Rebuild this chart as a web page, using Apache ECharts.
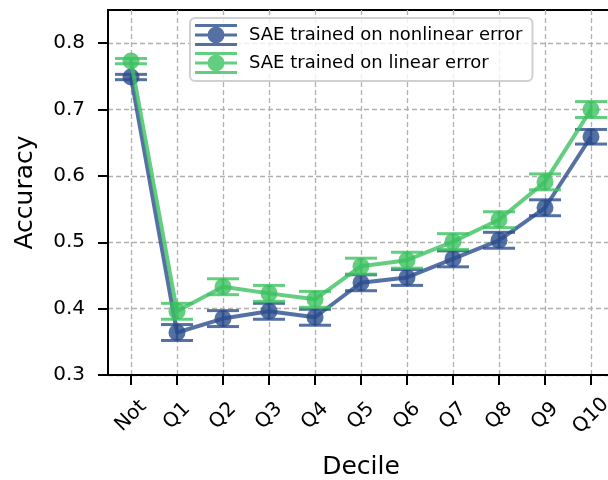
<!DOCTYPE html>
<html>
<head>
<meta charset="utf-8">
<script src="https://cdn.jsdelivr.net/npm/echarts@6/dist/echarts.min.js"></script>
<style>
  html, body { margin: 0; padding: 0; background: #fff; }
  #chart { width: 608px; height: 480px; }
</style>
</head>
<body>
<div id="chart"></div>
<script>
// Decile categories along the x axis
const categories = ['Not', 'Q1', 'Q2', 'Q3', 'Q4', 'Q5', 'Q6', 'Q7', 'Q8', 'Q9', 'Q10'];

// Accuracy (mean) and error half-widths per decile
const nonlinearAcc = [0.749, 0.364, 0.385, 0.396, 0.387, 0.439, 0.447, 0.475, 0.503, 0.552, 0.659];
const nonlinearErr = [0.004, 0.012, 0.012, 0.012, 0.012, 0.012, 0.012, 0.012, 0.012, 0.012, 0.011];
const linearAcc = [0.773, 0.396, 0.433, 0.423, 0.414, 0.464, 0.473, 0.501, 0.534, 0.591, 0.700];
const linearErr = [0.004, 0.012, 0.012, 0.012, 0.012, 0.012, 0.012, 0.012, 0.012, 0.012, 0.012];

// y tick positions
const yTicks = [0.3, 0.4, 0.5, 0.6, 0.7, 0.8];

const seriesNames = ['SAE trained on nonlinear error', 'SAE trained on linear error'];
const blue = '#2a4c8c';
const green = '#3cc060';
const ALPHA = 0.8;
const FONT = 'DejaVu Sans';

// Legend handle: three horizontal bars (cap, line, cap), a vertical error bar and a marker
const handleIcon = 'path://M0,0 L42,0 L42,3 L0,3 Z M0,9.5 L42,9.5 L42,12.5 L0,12.5 Z M0,19 L42,19 L42,22 L0,22 Z ' +
  'M20,2 L22,2 L22,20 L20,20 Z ' +
  'M21,2.5 L24.25,3.15 L27.01,4.99 L28.85,7.75 L29.5,11 L28.85,14.25 L27.01,17.01 L24.25,18.85 L21,19.5 ' +
  'L17.75,18.85 L14.99,17.01 L13.15,14.25 L12.5,11 L13.15,7.75 L14.99,4.99 L17.75,3.15 Z';

// Error bars with caps; this series also carries the legend entry
function errorSeries(name, acc, err, color, z) {
  const data = acc.map((v, i) => [i, v - err[i], v + err[i]]);
  return {
    type: 'custom',
    name: name,
    z: z,
    data: data,
    encode: { x: 0, y: [1, 2] },
    silent: true,
    itemStyle: { color: color, opacity: ALPHA },
    renderItem: function (params, api) {
      const x = api.value(0);
      const lo = api.coord([x, api.value(1)]);
      const hi = api.coord([x, api.value(2)]);
      const half = 16;
      const style = { stroke: color, lineWidth: 3, opacity: ALPHA };
      return {
        type: 'group',
        children: [
          { type: 'line', shape: { x1: lo[0], y1: lo[1], x2: hi[0], y2: hi[1] }, style: Object.assign({}, style, { lineWidth: 2.5 }) },
          { type: 'line', shape: { x1: lo[0] - half, y1: lo[1], x2: lo[0] + half, y2: lo[1] }, style: style },
          { type: 'line', shape: { x1: hi[0] - half, y1: hi[1], x2: hi[0] + half, y2: hi[1] }, style: style }
        ]
      };
    }
  };
}

function lineSeries(name, acc, color, z) {
  return {
    type: 'line',
    name: name + ' (mean)',
    z: z,
    data: acc,
    symbol: 'circle',
    symbolSize: 17,
    showAllSymbol: true,
    silent: true,
    lineStyle: { color: color, width: 4, opacity: ALPHA },
    itemStyle: { color: color, opacity: ALPHA },
    emphasis: { disabled: true }
  };
}

const chart = echarts.init(document.getElementById('chart'), null, { renderer: 'canvas' });

chart.setOption({
  animation: false,
  backgroundColor: '#fff',
  grid: {
    left: 108, top: 10, right: -6, bottom: 105,
    outerBoundsMode: 'none',
    containLabel: false,
    show: true, borderColor: '#000', borderWidth: 2, backgroundColor: 'transparent'
  },
  legend: {
    left: 190, top: 18,
    z: 20,
    orient: 'vertical',
    itemWidth: 42, itemHeight: 22, itemGap: 6,
    padding: [6, 10, 7, 5],
    backgroundColor: 'rgba(255,255,255,0.8)',
    borderColor: '#d0d0d0', borderWidth: 2, borderRadius: 5,
    selectedMode: false,
    symbolKeepAspect: false,
    data: [
      { name: seriesNames[0], icon: handleIcon, itemStyle: { color: blue, opacity: ALPHA, borderWidth: 0 } },
      { name: seriesNames[1], icon: handleIcon, itemStyle: { color: green, opacity: ALPHA, borderWidth: 0 } }
    ],
    textStyle: { fontFamily: FONT, fontSize: 18, color: '#000', padding: [0, 0, 0, 7] }
  },
  xAxis: {
    type: 'category',
    data: categories,
    boundaryGap: true,
    name: 'Decile',
    nameLocation: 'middle',
    nameGap: 80,
    nameTextStyle: { fontFamily: FONT, fontSize: 25, color: '#000' },
    axisLine: { onZero: false, lineStyle: { color: '#000', width: 2 } },
    axisTick: { show: true, alignWithLabel: true, length: 10, lineStyle: { color: '#000', width: 2 } },
    axisLabel: {
      rotate: 45, interval: 0, margin: 41, align: 'center', verticalAlign: 'middle',
      fontFamily: FONT, fontSize: 20, color: '#000'
    },
    splitLine: { show: true, alignWithLabel: true, lineStyle: { color: '#b0b0b0', width: 1.3, type: [5, 3] } }
  },
  yAxis: {
    type: 'value',
    min: 0.3, max: 0.85, interval: 0.1,
    name: 'Accuracy',
    nameLocation: 'middle',
    nameGap: 70,
    nameTextStyle: { fontFamily: FONT, fontSize: 25, color: '#000' },
    axisLine: { show: true, lineStyle: { color: '#000', width: 2 } },
    axisTick: { show: true, length: 10, customValues: yTicks, lineStyle: { color: '#000', width: 2 } },
    axisLabel: {
      margin: 23,
      fontFamily: FONT, fontSize: 20, color: '#000',
      formatter: v => (Math.abs(v * 10 - Math.round(v * 10)) < 1e-6 ? v.toFixed(1) : '')
    },
    splitLine: { show: true, lineStyle: { color: '#b0b0b0', width: 1.3, type: [5, 3] } }
  },
  series: [
    lineSeries(seriesNames[0], nonlinearAcc, blue, 2),
    errorSeries(seriesNames[0], nonlinearAcc, nonlinearErr, blue, 3),
    lineSeries(seriesNames[1], linearAcc, green, 4),
    errorSeries(seriesNames[1], linearAcc, linearErr, green, 5)
  ]
});
</script>
</body>
</html>
